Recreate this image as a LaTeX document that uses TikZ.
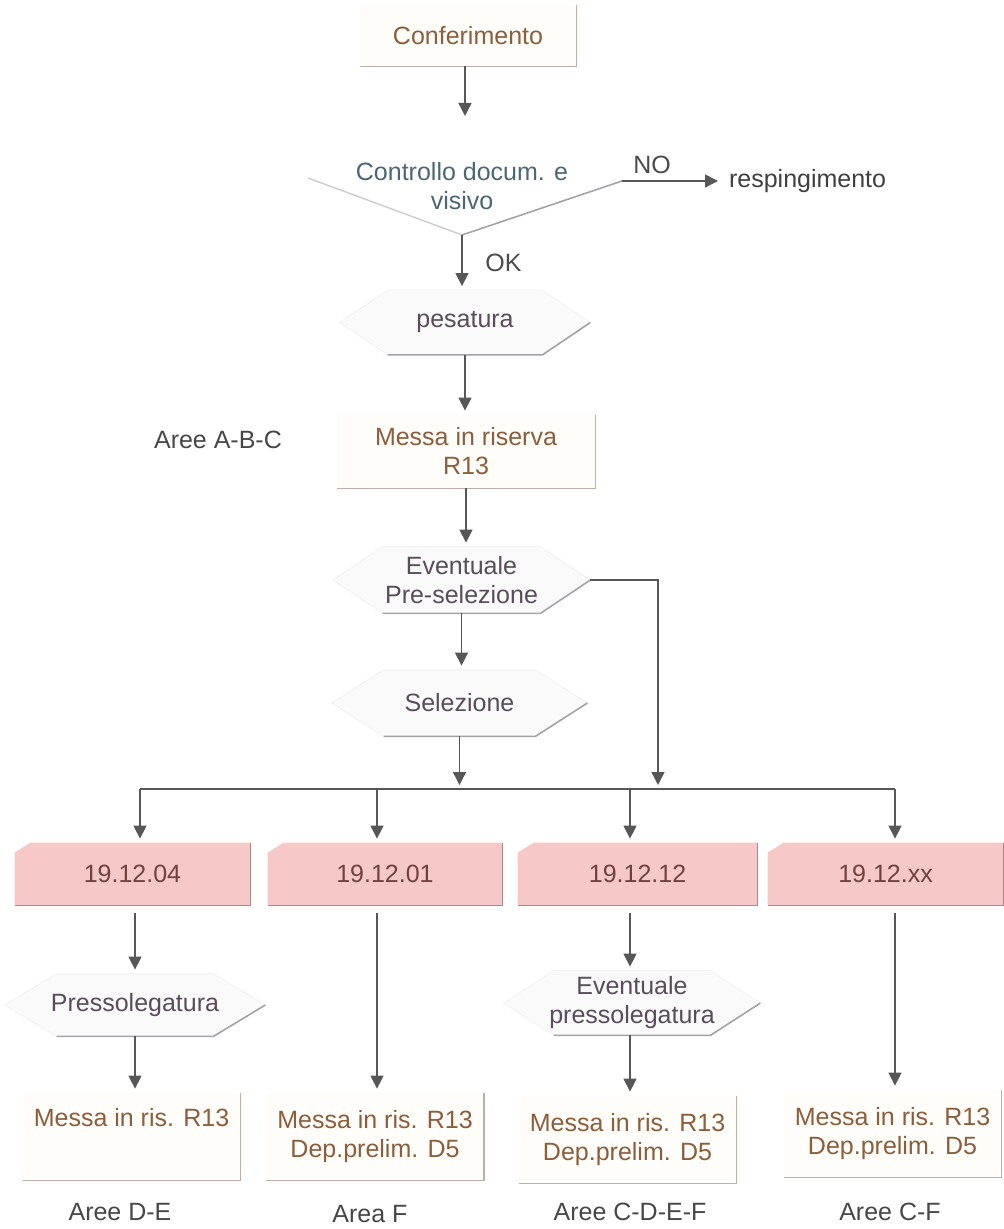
\documentclass[tikz,border=0pt]{standalone}
\usepackage{fontspec}
\setmainfont{Liberation Sans}
\usetikzlibrary{positioning}
\usetikzlibrary{calc}
\usetikzlibrary{arrows.meta}
\usetikzlibrary{backgrounds}

\definecolor{boxfill}{HTML}{FFFDF9}
\definecolor{boxline}{HTML}{BFAFA6}
\definecolor{boxtext}{HTML}{8C5E3C}
\definecolor{prepfill}{HTML}{FAFAFA}
\definecolor{prepline}{HTML}{A3A3A8}
\definecolor{preptext}{HTML}{5A4C5C}
\definecolor{ctrltext}{HTML}{4B6676}
\definecolor{codefill}{HTML}{F6C8C8}
\definecolor{codeline}{HTML}{B08686}
\definecolor{codetext}{HTML}{74403F}
\definecolor{arrcol}{HTML}{575757}

\tikzset{>={Triangle[length=6.5pt,width=6.5pt]}}
\tikzset{resbox/.style={fill=boxfill, text=boxtext, align=center, inner sep=0pt, minimum width=108.5pt, minimum height=43.5pt}}
\tikzset{prepbox/.style={text=preptext, align=center, inner sep=0pt, minimum height=32pt}}
\tikzset{codebox/.style={text=codetext, inner sep=0pt, minimum height=31pt}}
\tikzset{arealbl/.style={text=black!72}}
\tikzset{arr/.style={->, draw=arrcol, line width=0.7pt, shorten >=2pt}}

\begin{document}
\begin{tikzpicture}[x=0.5pt, y=-0.5pt, font=\fontsize{12.5}{14.5}\selectfont]
    \useasboundingbox (0,0) rectangle (1003,1229);

    % top part
    \node[resbox, minimum width=108pt, minimum height=30.5pt] (conf) at (468,35.5) {Conferimento};
    \coordinate (ctrltop) at (465,120);
    \node[text=ctrltext, align=center] (ctrl) at (462,186) {Controllo docum. e\\visivo};
    \coordinate (ctrll) at (308,178);
    \coordinate (ctrlv) at (462,235);
    \coordinate (nopt) at (622,181);
    \node[text=black!75, anchor=west] (resp) at (722,181) {respingimento};

    \node[prepbox, minimum width=125pt] (pes) at (465,322.5) {pesatura};
    \node[resbox, minimum width=129pt, minimum height=36.5pt] (ris) at (466,451.5) {Messa in riserva\\R13};
    \node[arealbl] (areeabc) at (218,440) {Aree A-B-C};
    \node[prepbox, minimum width=128.5pt, minimum height=33pt] (presel) at (461.5,580) {Eventuale\\Pre-selezione};
    \node[prepbox, minimum width=127.5pt, minimum height=33pt] (sel) at (459.5,703) {Selezione};

    % bus
    \coordinate (b1) at (140,789);
    \coordinate (b2) at (377,789);
    \coordinate (b3) at (630,789);
    \coordinate (b4) at (895,789);
    \coordinate (bsel) at (459.5,789);
    \coordinate (bpre) at (658,789);

    \node[codebox, minimum width=117.5pt] (c1) at (132.5,874) {19.12.04};
    \node[codebox, minimum width=117pt] (c2) at (385,874) {19.12.01};
    \node[codebox, minimum width=119.5pt] (c3) at (637.5,874) {19.12.12};
    \node[codebox, minimum width=117.5pt] (c4) at (885.5,874) {19.12.xx};

    \node[prepbox, minimum width=130pt, minimum height=31pt] (press) at (135,1005) {Pressolegatura};
    \node[prepbox, minimum width=128pt, minimum height=32pt] (evpress) at (632,1003) {Eventuale\\pressolegatura};

    \node[resbox] (m1) at (131.5,1136.5) {Messa in ris. R13\\\strut};
    \node[resbox] (m2) at (375,1136.5) {Messa in ris. R13\\Dep.prelim. D5};
    \node[resbox] (m3) at (627.5,1139.5) {Messa in ris. R13\\Dep.prelim. D5};
    \node[resbox] (m4) at (892.5,1133.5) {Messa in ris. R13\\Dep.prelim. D5};

    \node[arealbl] (areede) at (120,1212) {Aree D-E};
    \node[arealbl] (areaf) at (370,1214) {Area F};
    \node[arealbl] (areecdef) at (630,1212) {Aree C-D-E-F};
    \node[arealbl] (areecf) at (890,1212) {Aree C-F};

    % shapes
    \begin{pgfonlayer}{background}
      \foreach \n/\d in {pes/24,presel/25,sel/26,press/26,evpress/25}
        \fill[prepfill, draw=black!5] (\n.west) -- ([xshift=\d pt]\n.north west) -- ([xshift=-\d pt]\n.north east)
          -- (\n.east) -- ([xshift=-\d pt]\n.south east) -- ([xshift=\d pt]\n.south west) -- cycle;
      \foreach \n in {c1,c2,c3,c4}
        \fill[codefill] ([yshift=-5pt]\n.north west) -- ([xshift=8pt]\n.north west) -- (\n.north east)
          -- (\n.south east) -- (\n.south west) -- cycle;
    \end{pgfonlayer}
    \foreach \n/\d in {pes/24,presel/25,sel/26,press/26,evpress/25}
      \draw[prepline, line width=0.8pt] ([xshift=\d pt]\n.south west) -- ([xshift=-\d pt]\n.south east) -- (\n.east);
    \foreach \n in {conf,ris,m1,m2,m3,m4}
      \draw[boxline, line width=0.8pt] (\n.north east) |- (\n.south west);
    \foreach \n in {c1,c2,c3,c4}
      \draw[codeline, line width=0.9pt] (\n.north east) |- (\n.south west);
    \draw[black!20, line width=0.7pt] (ctrll) -- (ctrlv);
    \draw[prepline, line width=0.8pt] (ctrlv) -- (nopt);

    % connectors
    \draw[arr] (ctrltop |- conf.south) -- (ctrltop);
    \draw[arr] (nopt) -- node[above, pos=0.3, text=black!70] {NO} (resp.west);
    \draw[arr] (ctrlv) -- node[right=8pt, text=black!70] {OK} (ctrlv |- pes.north);
    \draw[arr] (pes.south) -- (pes.south |- ris.north);
    \draw[arr] (ris.south) -- (ris.south |- presel.north);
    \draw[arr] (presel.south) -- (presel.south |- sel.north);
    \draw[arr] (presel.east) -| (bpre);
    \draw[arr] (sel.south) -- (bsel);
    \draw[draw=arrcol, line width=0.7pt] (b1) -- (b4);
    \foreach \b/\c in {b1/c1,b2/c2,b3/c3,b4/c4}
      \draw[arr] (\b) -- (\b |- \c.north);

    \draw[arr, shorten <=4pt] (press.north |- c1.south) -- (press.north);
    \draw[arr] (press.south) -- (press.south |- m1.north);
    \draw[arr, shorten <=4pt] (b2 |- c2.south) -- (b2 |- m2.north);
    \draw[arr, shorten <=4pt] (b3 |- c3.south) -- (b3 |- evpress.north);
    \draw[arr] (b3 |- evpress.south) -- (b3 |- m3.north);
    \draw[arr, shorten <=4pt] (b4 |- c4.south) -- (b4 |- m4.north);
\end{tikzpicture}
\end{document}
